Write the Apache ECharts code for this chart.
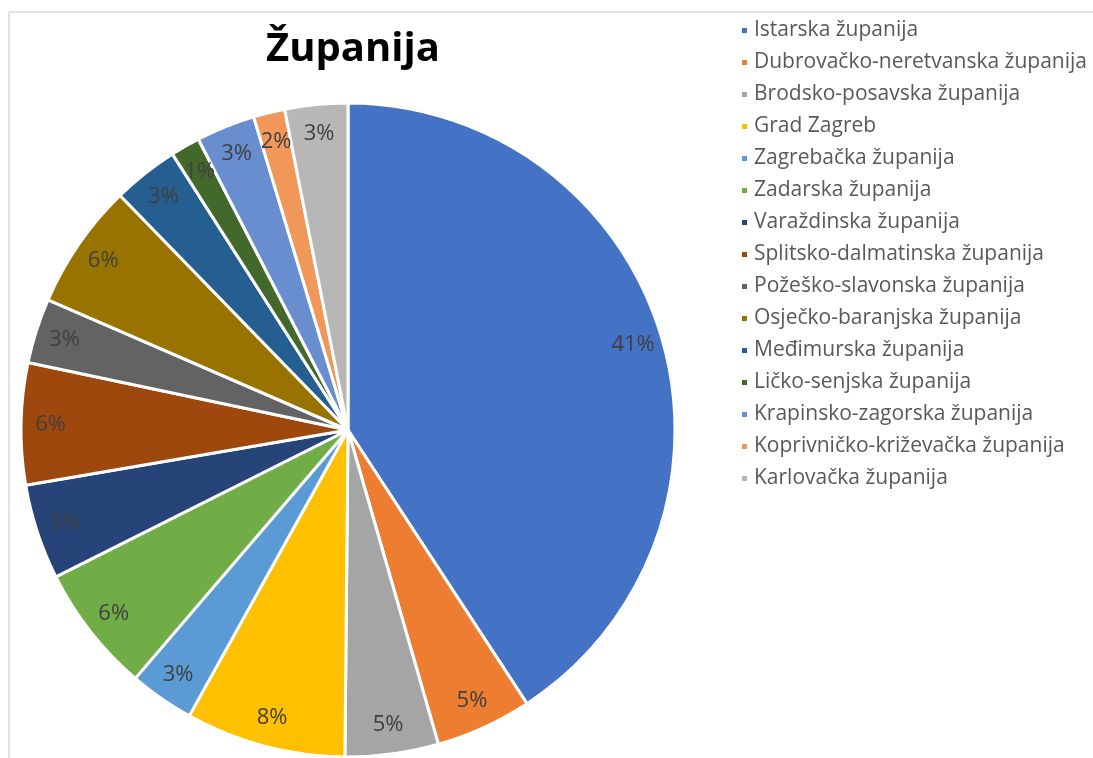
<!DOCTYPE html>
<html>
<head>
<meta charset="utf-8">
<script src="https://cdn.jsdelivr.net/npm/echarts@6/dist/echarts.min.js"></script>
<style>
html,body{margin:0;padding:0;background:#fff;}
#chart{width:1093px;height:758px;}
</style>
</head>
<body>
<div id="chart"></div>
<script>
const categories = [
  'Istarska županija',
  'Dubrovačko-neretvanska županija',
  'Brodsko-posavska županija',
  'Grad Zagreb',
  'Zagrebačka županija',
  'Zadarska županija',
  'Varaždinska županija',
  'Splitsko-dalmatinska županija',
  'Požeško-slavonska županija',
  'Osječko-baranjska županija',
  'Međimurska županija',
  'Ličko-senjska županija',
  'Krapinsko-zagorska županija',
  'Koprivničko-križevačka županija',
  'Karlovačka županija'
];
const values = [40.7, 4.75, 4.6, 7.9, 3.2, 6.3, 4.7, 6.0, 3.2, 6.2, 3.25, 1.45, 2.9, 1.55, 3.1];
const colors = ['#4472C4','#ED7D31','#A5A5A5','#FFC000','#5B9BD5','#70AD47','#264478','#9E480E','#636363','#997300','#255E91','#43682B','#698ED0','#F1975A','#B7B7B7'];
const titleText = 'Županija';

const FONT = 'Open Sans';
const chart = echarts.init(document.getElementById('chart'));
const mainData = categories.map((n, i) => ({name: n, value: values[i], itemStyle: {color: colors[i]}}));
const labelData = categories.map((n, i) => ({name: n, value: values[i]}));
chart.setOption({
  animation: false,
  title: {
    text: titleText, left: 348, top: 25, textAlign: 'center',
    textStyle: {fontFamily: FONT, fontWeight: 'bold', fontSize: 40, color: '#000'}
  },
  legend: {
    orient: 'vertical', left: 735, top: 15,
    icon: 'rect', itemWidth: 7, itemHeight: 7, itemGap: 11,
    textStyle: {fontFamily: FONT, fontSize: 21, lineHeight: 20, color: '#595959', padding: [0,0,0,1]},
    data: categories
  },
  graphic: [
    {type: 'line', shape: {x1: 9, y1: 12, x2: 1093, y2: 12}, style: {stroke: '#D9D9D9', lineWidth: 1.5}, silent: true},
    {type: 'line', shape: {x1: 9, y1: 12, x2: 9, y2: 758}, style: {stroke: '#D9D9D9', lineWidth: 1.5}, silent: true}
  ],
  series: [
    {
      type: 'pie', center: [348, 430], radius: [0, 327], startAngle: 90, clockwise: true,
      avoidLabelOverlap: false,
      itemStyle: {borderColor: '#fff', borderWidth: 3},
      label: {show: false}, labelLine: {show: false},
      emphasis: {disabled: true},
      data: mainData
    },
    {
      type: 'pie', center: [348, 430], radius: [262, 327], startAngle: 90, clockwise: true,
      avoidLabelOverlap: false, silent: true,
      itemStyle: {color: 'rgba(0,0,0,0)', borderWidth: 0},
      label: {show: true, position: 'inside', fontFamily: FONT, fontSize: 22, color: '#404040',
        formatter: p => Math.round(p.percent) + '%'},
      labelLine: {show: false},
      emphasis: {disabled: true},
      data: labelData
    }
  ]
});
</script>
</body>
</html>
